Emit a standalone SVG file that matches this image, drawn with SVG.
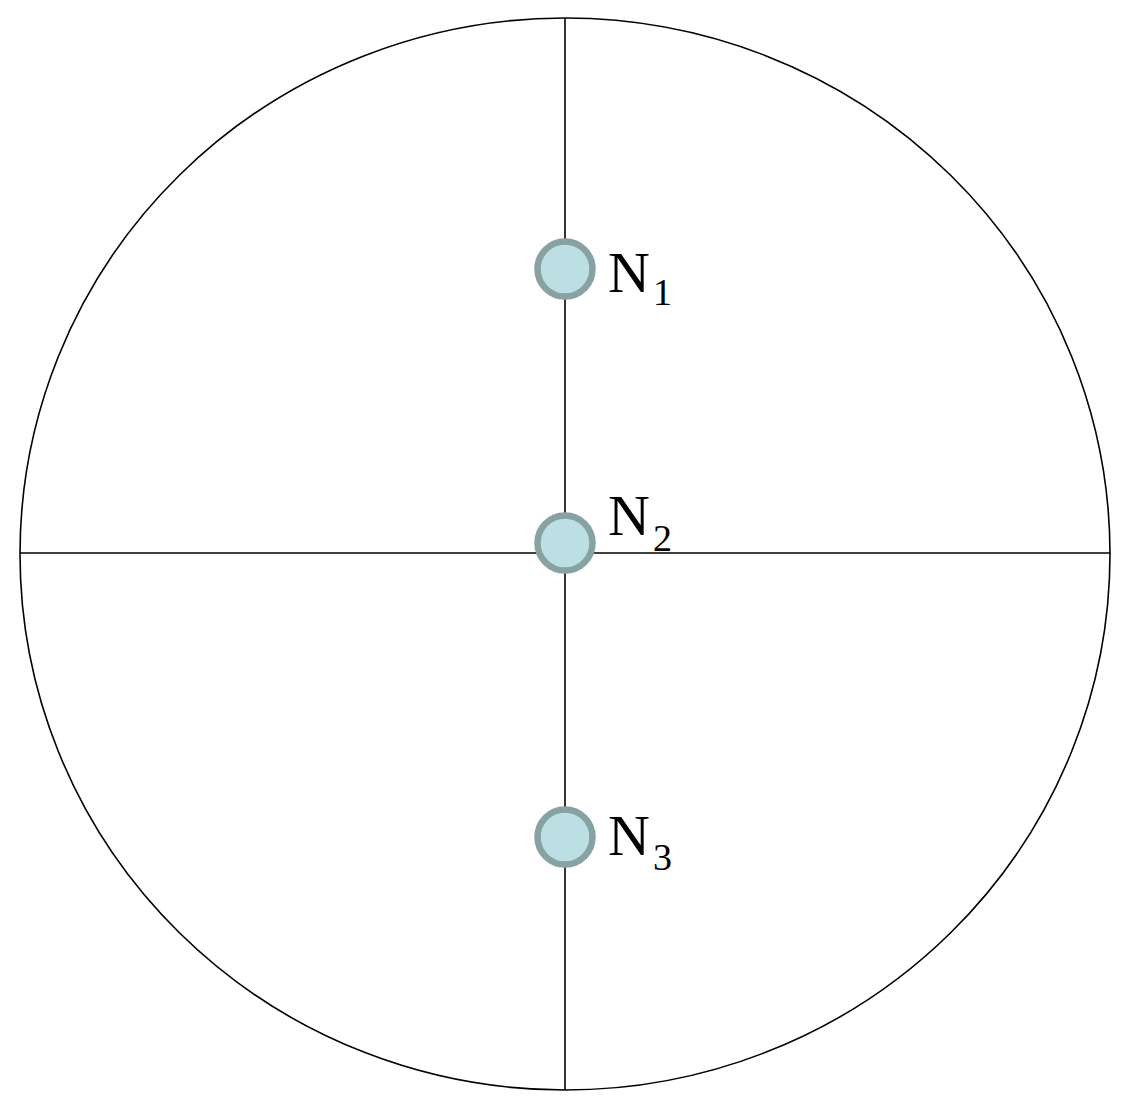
<svg xmlns="http://www.w3.org/2000/svg" width="1135" height="1106" viewBox="0 0 1135 1106">
<style>
.ln{stroke:#000;stroke-width:1.6;fill:none}
.nd{fill:#BBDFE2;stroke:#88A2A3;stroke-width:6.5}
.lb{font-family:"Liberation Serif",serif;font-size:58px;fill:#000}
.sb{font-size:38px}
</style>
<rect width="1135" height="1106" fill="#fff"/>
<g id="connectors">
<ellipse class="ln" cx="565" cy="554" rx="545" ry="536"/>
<line class="ln" x1="565" y1="18" x2="565" y2="1090"/>
<line class="ln" x1="20" y1="553" x2="1110" y2="553"/>
</g>
<g id="N1">
<circle class="nd" cx="565" cy="269" r="27.5"/>
<text class="lb" x="608" y="292">N<tspan class="sb" x="653" y="305">1</tspan></text>
</g>
<g id="N2">
<circle class="nd" cx="565" cy="543" r="27.5"/>
<text class="lb" x="608" y="535">N<tspan class="sb" x="653" y="551">2</tspan></text>
</g>
<g id="N3">
<circle class="nd" cx="565" cy="837" r="27.5"/>
<text class="lb" x="608" y="855">N<tspan class="sb" x="653" y="870">3</tspan></text>
</g>
</svg>
